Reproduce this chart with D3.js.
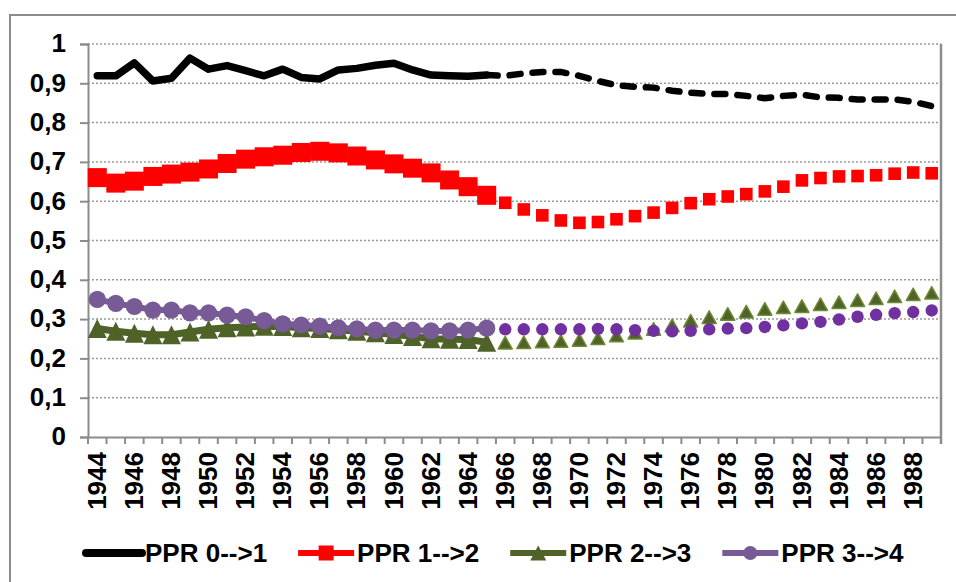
<!DOCTYPE html>
<html>
<head>
<meta charset="utf-8">
<script src="https://cdn.jsdelivr.net/npm/d3@7"></script>
<style>
  body { margin: 0; background: #fff; }
  svg text { font-family: "Liberation Sans", Arial, sans-serif; font-weight: bold; font-size: 26px; fill: #000; }
</style>
</head>
<body>
<svg id="chart" width="956" height="582"></svg>
<script>
// categories
var firstYear = 1944, splitYear = 1965, lastYear = 1989;
var years = d3.range(firstYear, lastYear + 1);
var histYears = d3.range(firstYear, splitYear + 1);      // 1944-1965, big markers
var projYears = d3.range(splitYear + 1, lastYear + 1);   // 1966-1989, small markers
var dashYears = d3.range(splitYear, lastYear + 1);       // dashed line starts at 1965
var xTickYears = years.filter(function (d) { return (d - firstYear) % 2 === 0; });
var yTicks = [0, 0.1, 0.2, 0.3, 0.4, 0.5, 0.6, 0.7, 0.8, 0.9, 1];

var seriesNames = ["PPR 0-->1", "PPR 1-->2", "PPR 2-->3", "PPR 3-->4"];

// PPR 0-->1
var ppr01Hist = [0.919, 0.919, 0.952, 0.906, 0.913, 0.964, 0.936, 0.945, 0.932, 0.919, 0.936,
  0.915, 0.911, 0.934, 0.938, 0.946, 0.951, 0.934, 0.921, 0.919, 0.918, 0.921];
var ppr01Proj = [0.921, 0.919, 0.925, 0.929, 0.929, 0.919, 0.906, 0.895, 0.891, 0.889, 0.881,
  0.876, 0.873, 0.873, 0.868, 0.862, 0.868, 0.871, 0.864, 0.863, 0.859, 0.859, 0.859, 0.853, 0.842];

// PPR 1-->2
var ppr12Hist = [0.660, 0.646, 0.651, 0.663, 0.669, 0.674, 0.682, 0.696, 0.707, 0.713, 0.717,
  0.724, 0.727, 0.723, 0.715, 0.705, 0.695, 0.684, 0.672, 0.654, 0.637, 0.615];
var ppr12Proj = [0.596, 0.579, 0.564, 0.551, 0.545, 0.547, 0.554, 0.562, 0.571, 0.583, 0.595,
  0.605, 0.612, 0.618, 0.625, 0.637, 0.653, 0.659, 0.663, 0.664, 0.666, 0.670, 0.673, 0.671];

// PPR 2-->3
var ppr23Hist = [0.276, 0.269, 0.264, 0.260, 0.260, 0.267, 0.274, 0.278, 0.280, 0.282, 0.281,
  0.278, 0.276, 0.273, 0.269, 0.265, 0.261, 0.256, 0.250, 0.249, 0.248, 0.241];
var ppr23Proj = [0.240, 0.241, 0.243, 0.244, 0.247, 0.251, 0.258, 0.265, 0.275, 0.284, 0.296,
  0.305, 0.313, 0.319, 0.326, 0.330, 0.333, 0.338, 0.343, 0.348, 0.353, 0.358, 0.363, 0.367];

// PPR 3-->4
var ppr34Hist = [0.350, 0.340, 0.332, 0.323, 0.323, 0.316, 0.316, 0.310, 0.306, 0.296, 0.288,
  0.285, 0.282, 0.278, 0.275, 0.272, 0.272, 0.272, 0.270, 0.270, 0.272, 0.277];
var ppr34Proj = [0.274, 0.274, 0.274, 0.274, 0.274, 0.275, 0.274, 0.272, 0.270, 0.269, 0.270,
  0.274, 0.276, 0.277, 0.280, 0.284, 0.289, 0.293, 0.299, 0.306, 0.311, 0.315, 0.318, 0.322];

var zip = function (cats, vals) {
  return cats.map(function (c, i) { return { year: c, value: vals[i] }; });
};

var svg = d3.select("#chart");
var plot = { left: 88, right: 941, top: 44, bottom: 437 };
var gray = "#8c8c8c";

var x = d3.scaleBand().domain(years).range([plot.left, plot.right]).padding(0);
var y = d3.scaleLinear().domain([0, 1]).range([plot.bottom, plot.top]);
var cx = function (d) { return x(d.year) + x.bandwidth() / 2; };
var cy = function (d) { return y(d.value); };

var fr = d3.formatLocale({ decimal: ",", thousands: ".", grouping: [3], currency: ["", ""] });
var fmt = fr.format("~g");

// outer chart border
svg.append("rect")
  .attr("x", 10).attr("y", 15).attr("width", 980).attr("height", 620)
  .attr("fill", "none").attr("stroke", gray).attr("stroke-width", 2);

// dotted gridlines
svg.append("g").selectAll("line")
  .data(yTicks.filter(function (d) { return d > 0; }))
  .enter().append("line")
  .attr("x1", plot.left).attr("x2", plot.right)
  .attr("y1", y).attr("y2", y)
  .attr("stroke", "#999").attr("stroke-width", 1.5)
  .attr("stroke-dasharray", "2,2");

// right border of plot area
svg.append("line")
  .attr("x1", plot.right).attr("x2", plot.right)
  .attr("y1", plot.top).attr("y2", plot.bottom + 7)
  .attr("stroke", gray).attr("stroke-width", 2.5);

// y axis
var yAxis = svg.append("g")
  .attr("transform", "translate(" + plot.left + ",0)")
  .call(d3.axisLeft(y).tickValues(yTicks).tickFormat(fmt).tickSize(8).tickPadding(14));
yAxis.select(".domain").attr("stroke", gray).attr("stroke-width", 2);
yAxis.selectAll(".tick line").attr("stroke", gray).attr("stroke-width", 2);
yAxis.selectAll(".tick text").attr("dy", "0.3em").attr("font-size", null).attr("font-family", null);
yAxis.attr("font-size", null).attr("font-family", null);

// x axis with ticks between categories
var xAxis = svg.append("g")
  .attr("transform", "translate(0," + plot.bottom + ")")
  .call(d3.axisBottom(x).tickValues(xTickYears).tickSize(0).tickPadding(14));
xAxis.attr("font-size", null).attr("font-family", null);
xAxis.select(".domain").attr("stroke", gray).attr("stroke-width", 2);
xAxis.selectAll(".tick text")
  .attr("transform", "rotate(-90)")
  .attr("text-anchor", "end")
  .attr("x", -15).attr("y", 0).attr("dy", "0.33em");

var bounds = years.map(function (d) { return x(d); }).concat([plot.right]);
svg.append("g").selectAll("line")
  .data(bounds).enter().append("line")
  .attr("x1", function (d) { return d; }).attr("x2", function (d) { return d; })
  .attr("y1", plot.bottom).attr("y2", plot.bottom + 7)
  .attr("stroke", gray).attr("stroke-width", 2);

var line = d3.line().x(cx).y(cy);

var triangle = function (w, h) {
  return "M0," + (-h / 2) + "L" + (w / 2) + "," + (h / 2) + "L" + (-w / 2) + "," + (h / 2) + "Z";
};

var colors = {
  black: "#000000",
  red: "#ff0000",
  green: "#4f6228", greenEdge: "#6f8a37",
  purpleHist: "#775a96", purpleProj: "#7030a0"
};

// PPR 0-->1
svg.append("path").datum(zip(histYears, ppr01Hist))
  .attr("d", line).attr("fill", "none").attr("stroke", colors.black)
  .attr("stroke-width", 7.5).attr("stroke-linejoin", "round").attr("stroke-linecap", "round");
svg.append("path").datum(zip(dashYears, ppr01Proj))
  .attr("d", line).attr("fill", "none").attr("stroke", colors.black)
  .attr("stroke-width", 6.5).attr("stroke-linecap", "round")
  .attr("stroke-dasharray", "11,12");

// PPR 1-->2
svg.append("path").datum(zip(histYears, ppr12Hist))
  .attr("d", line).attr("fill", "none").attr("stroke", colors.red).attr("stroke-width", 6);
svg.append("g").selectAll("rect").data(zip(histYears, ppr12Hist)).enter().append("rect")
  .attr("x", function (d) { return cx(d) - 9.5; }).attr("y", function (d) { return cy(d) - 9.5; })
  .attr("width", 19).attr("height", 19).attr("fill", colors.red);
svg.append("g").selectAll("rect").data(zip(projYears, ppr12Proj)).enter().append("rect")
  .attr("x", function (d) { return cx(d) - 6.3; }).attr("y", function (d) { return cy(d) - 6.3; })
  .attr("width", 12.6).attr("height", 12.6).attr("fill", colors.red);

// PPR 2-->3
svg.append("path").datum(zip(histYears, ppr23Hist))
  .attr("d", line).attr("fill", "none").attr("stroke", colors.green).attr("stroke-width", 7);
svg.append("g").selectAll("path").data(zip(histYears, ppr23Hist)).enter().append("path")
  .attr("d", triangle(19, 19))
  .attr("transform", function (d) { return "translate(" + cx(d) + "," + cy(d) + ")"; })
  .attr("fill", colors.green);
svg.append("g").selectAll("path").data(zip(projYears, ppr23Proj)).enter().append("path")
  .attr("d", triangle(14, 12.5))
  .attr("transform", function (d) { return "translate(" + cx(d) + "," + cy(d) + ")"; })
  .attr("fill", colors.green).attr("stroke", colors.greenEdge).attr("stroke-width", 1.5)
  .attr("stroke-linejoin", "round");

// PPR 3-->4
svg.append("path").datum(zip(histYears, ppr34Hist))
  .attr("d", line).attr("fill", "none").attr("stroke", colors.purpleHist).attr("stroke-width", 6);
svg.append("g").selectAll("circle").data(zip(histYears, ppr34Hist)).enter().append("circle")
  .attr("cx", cx).attr("cy", cy).attr("r", 8.6).attr("fill", colors.purpleHist);
svg.append("g").selectAll("circle").data(zip(projYears, ppr34Proj)).enter().append("circle")
  .attr("cx", cx).attr("cy", cy).attr("r", 6.2).attr("fill", colors.purpleProj);

// legend
var legendColors = [colors.black, colors.red, colors.green, colors.purpleHist];
var legendY = 553, lx = 86;
seriesNames.forEach(function (name, i) {
  var g = svg.append("g");
  g.append("line")
    .attr("x1", lx).attr("x2", lx + 56).attr("y1", legendY).attr("y2", legendY)
    .attr("stroke", legendColors[i]).attr("stroke-width", i === 0 ? 8 : 6)
    .attr("stroke-linecap", i === 0 ? "round" : "butt");
  var mx = lx + 28;
  if (i === 1) {
    g.append("rect").attr("x", mx - 7.5).attr("y", legendY - 7.5)
      .attr("width", 15).attr("height", 15).attr("fill", colors.red);
  } else if (i === 2) {
    g.append("path").attr("d", triangle(16, 15))
      .attr("transform", "translate(" + mx + "," + legendY + ")").attr("fill", colors.green);
  } else if (i === 3) {
    g.append("circle").attr("cx", mx).attr("cy", legendY).attr("r", 7).attr("fill", colors.purpleHist);
  }
  var t = g.append("text").attr("x", lx + 59).attr("y", legendY + 9).text(name);
  lx = lx + 59 + t.node().getComputedTextLength() + 31;
});
</script>
</body>
</html>
